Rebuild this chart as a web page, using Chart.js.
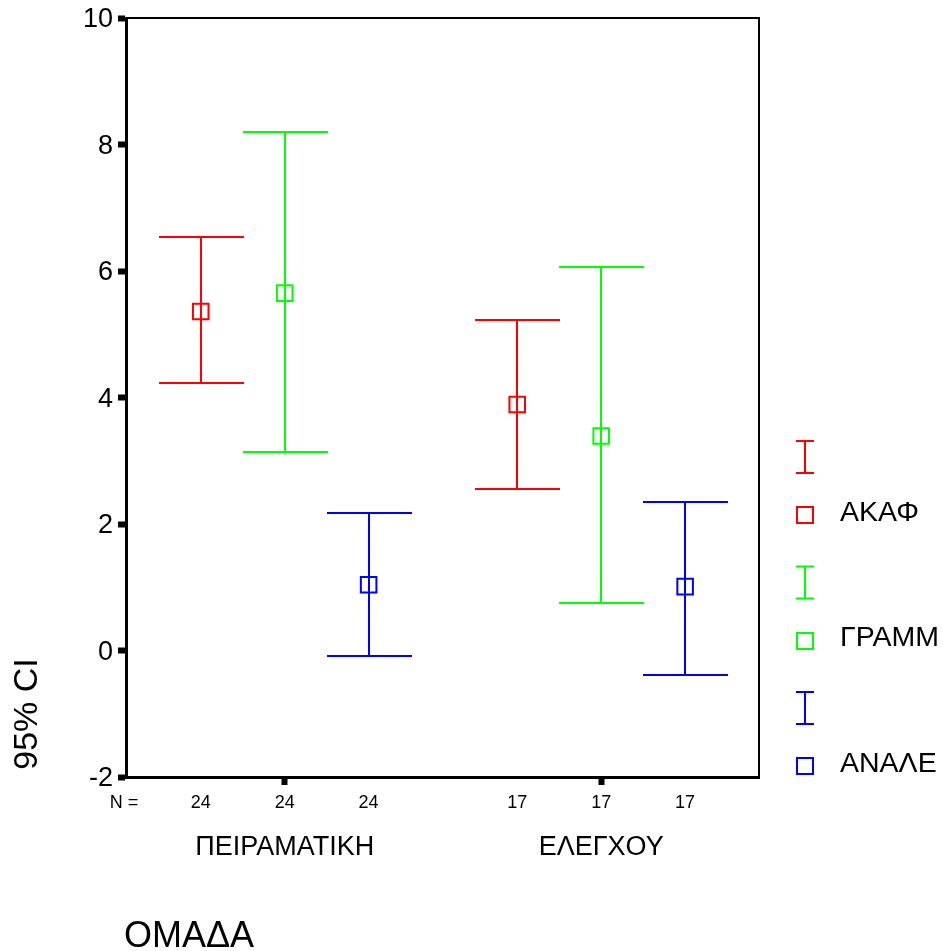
<!DOCTYPE html>
<html><head><meta charset="utf-8">
<script src="https://cdn.jsdelivr.net/npm/chart.js@4/dist/chart.umd.min.js"></script>
<style>html,body{margin:0;padding:0;background:#fff}#wrap{width:943px;height:951px}</style>
</head><body><div id="wrap"><canvas id="c" width="943" height="951"></canvas></div>
<script>
// ---- data ----
const groups = ['ΠΕΙΡΑΜΑΤΙΚΗ', 'ΕΛΕΓΧΟΥ'];
const seriesNames = ['ΑΚΑΦ', 'ΓΡΑΜΜ', 'ΑΝΑΛΕ'];
const meanAKAF  = [5.36, 3.89];
const lowAKAF   = [4.23, 2.55];
const highAKAF  = [6.53, 5.23];
const meanGRAMM = [5.65, 3.39];
const lowGRAMM  = [3.14, 0.75];
const highGRAMM = [8.20, 6.07];
const meanANALE = [1.04, 1.01];
const lowANALE  = [-0.09, -0.38];
const highANALE = [2.17, 2.34];
const nAKAF  = [24, 17];
const nGRAMM = [24, 17];
const nANALE = [24, 17];
const yTicks = [-2, 0, 2, 4, 6, 8, 10];

// ---- styles / layout ----
const colors = ['#ff0000', '#00ff00', '#0000ff'];
const FONT = '"Liberation Sans", Arial, sans-serif';
const GROUP_GAP = 3.77;
const xPos = (g, s) => g * GROUP_GAP + s;
const series = [
  {mean: meanAKAF, low: lowAKAF, high: highAKAF, n: nAKAF},
  {mean: meanGRAMM, low: lowGRAMM, high: highGRAMM, n: nGRAMM},
  {mean: meanANALE, low: lowANALE, high: highANALE, n: nANALE}
];

const datasets = series.map((s, si) => ({
  label: seriesNames[si],
  data: groups.map((g, gi) => ({x: xPos(gi, si), y: s.mean[gi]})),
  pointStyle: 'rect',
  pointRadius: 11,
  pointHoverRadius: 11,
  borderWidth: 2,
  borderColor: colors[si],
  backgroundColor: 'rgba(0,0,0,0)',
  showLine: false
}));

const extras = {
  id: 'extras',
  beforeDatasetsDraw(chart) {
    const ctx = chart.ctx, xs = chart.scales.x, ys = chart.scales.y;
    ctx.save();
    ctx.lineWidth = 2;
    series.forEach((s, si) => {
      ctx.strokeStyle = colors[si];
      groups.forEach((g, gi) => {
        const px = Math.round(xs.getPixelForValue(xPos(gi, si)));
        const yh = Math.round(ys.getPixelForValue(s.high[gi]));
        const yl = Math.round(ys.getPixelForValue(s.low[gi]));
        ctx.beginPath();
        ctx.moveTo(px, yh); ctx.lineTo(px, yl);
        ctx.moveTo(px - 42, yh); ctx.lineTo(px + 43, yh);
        ctx.moveTo(px - 42, yl); ctx.lineTo(px + 43, yl);
        ctx.stroke();
      });
    });
    ctx.restore();
  },
  afterDraw(chart) {
    const ctx = chart.ctx, xs = chart.scales.x, a = chart.chartArea;
    ctx.save();
    // top & right frame
    ctx.strokeStyle = '#000';
    ctx.lineWidth = 2;
    ctx.beginPath();
    ctx.moveTo(a.left, a.top); ctx.lineTo(a.right, a.top); ctx.lineTo(a.right, a.bottom);
    ctx.stroke();
    // N labels
    ctx.fillStyle = '#000';
    ctx.textAlign = 'center';
    ctx.textBaseline = 'middle';
    ctx.font = '18px ' + FONT;
    ctx.fillText('N =', 124, 803);
    series.forEach((s, si) => groups.forEach((g, gi) => {
      ctx.fillText(String(s.n[gi]), xs.getPixelForValue(xPos(gi, si)), 803);
    }));
    // axis titles
    ctx.font = '36px ' + FONT;
    ctx.textAlign = 'left';
    ctx.fillText('ΟΜΑΔΑ', 124, 937);
    ctx.save();
    ctx.translate(28, 714);
    ctx.rotate(-Math.PI / 2);
    ctx.textAlign = 'center';
    ctx.font = '34px ' + FONT;
    ctx.fillText('95% CI', 0, 0);
    ctx.restore();
    // legend
    ctx.lineWidth = 2;
    ctx.font = '28.5px ' + FONT;
    ctx.textAlign = 'left';
    seriesNames.forEach((name, i) => {
      const base = 441 + 125.5 * i;
      const cx = 805;
      ctx.strokeStyle = colors[i];
      ctx.beginPath();
      ctx.moveTo(cx, base); ctx.lineTo(cx, base + 32);
      ctx.moveTo(cx - 9, base); ctx.lineTo(cx + 9, base);
      ctx.moveTo(cx - 9, base + 32); ctx.lineTo(cx + 9, base + 32);
      ctx.stroke();
      const sy = Math.round(base + 74);
      ctx.strokeRect(cx - 8, sy - 8, 16, 16);
      ctx.fillStyle = '#000';
      ctx.fillText(name, 840, base + 72);
    });
    ctx.restore();
  }
};

new Chart(document.getElementById('c'), {
  type: 'scatter',
  data: {datasets},
  options: {
    responsive: false,
    animation: false,
    devicePixelRatio: 1,
    layout: {padding: {left: 0, top: 18, right: 184, bottom: 0}},
    plugins: {legend: {display: false}, tooltip: {enabled: false}},
    scales: {
      x: {
        type: 'linear', position: 'bottom',
        min: -0.89, max: 6.65,
        afterBuildTicks: (sc) => { sc.ticks = groups.map((g, gi) => ({value: xPos(gi, 1)})); },
        afterFit: (sc) => { sc.height = 174; sc.paddingLeft = 0; sc.paddingRight = 0; },
        ticks: {
          autoSkip: false, maxRotation: 0, padding: 46,
          color: '#000', font: {family: FONT, size: 27},
          callback: (v, i) => groups[i]
        },
        grid: {drawOnChartArea: false, drawTicks: true, tickLength: 8, tickWidth: 6, tickColor: '#000'},
        border: {display: true, width: 3, color: '#000'}
      },
      y: {
        type: 'linear', position: 'left',
        min: yTicks[0], max: yTicks[yTicks.length - 1],
        afterBuildTicks: (sc) => { sc.ticks = yTicks.map(v => ({value: v})); },
        afterFit: (sc) => { sc.width = 126; sc.paddingTop = 0; sc.paddingBottom = 0; },
        ticks: {
          padding: 5, labelOffset: 2, color: '#000', font: {family: FONT, size: 27},
          callback: (v) => String(v)
        },
        grid: {drawOnChartArea: false, drawTicks: true, tickLength: 8, tickWidth: 6, tickColor: '#000'},
        border: {display: true, width: 3, color: '#000'}
      }
    }
  },
  plugins: [extras]
});
</script>
</body></html>
